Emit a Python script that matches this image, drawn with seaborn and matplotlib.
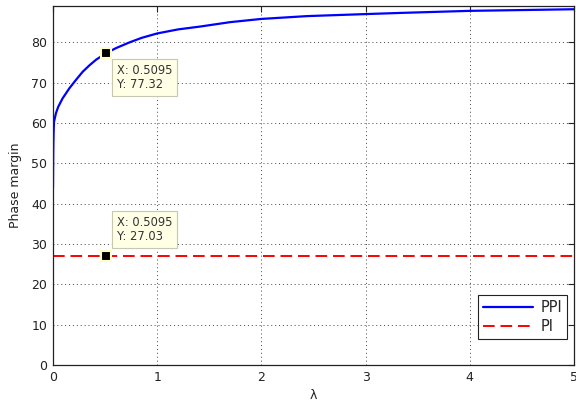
import matplotlib
matplotlib.use("Agg")
import matplotlib.pyplot as plt
import seaborn as sns
import pandas as pd

# data
ppi_x = [0.0, 0.001, 0.002, 0.004, 0.007, 0.01, 0.028, 0.05, 0.092, 0.157, 0.221, 0.285,
         0.35, 0.414, 0.5095, 0.608, 0.736, 0.85, 1.0, 1.2, 1.41, 1.7, 2.0, 2.44, 3.0,
         3.35, 4.0, 4.5, 5.0]
ppi_y = [44.0, 48.0, 52.0, 55.5, 58.5, 60.3, 62.4, 64.0, 66.1, 68.6, 70.7, 72.7,
         74.3, 75.7, 77.32, 78.6, 80.0, 81.1, 82.2, 83.2, 83.9, 85.0, 85.8, 86.5, 87.0,
         87.3, 87.8, 88.0, 88.2]
pi_x = [0.0, 5.0]
pi_y = [27.03, 27.03]
tip_x = [0.5095, 0.5095]
tip_y = [77.32, 27.03]
x_ticks = [0, 1, 2, 3, 4, 5]
y_ticks = [0, 10, 20, 30, 40, 50, 60, 70, 80]

sns.set_theme(style="white")
plt.rcParams['font.family'] = ['DejaVu Sans']

df_ppi = pd.DataFrame({"x": ppi_x, "y": ppi_y})
df_pi = pd.DataFrame({"x": pi_x, "y": pi_y})

fig = plt.figure(figsize=(5.76, 4.01), dpi=100)
ax = fig.add_axes([0.092, 0.0898, 0.9045, 0.8952])

sns.lineplot(data=df_ppi, x="x", y="y", ax=ax, color="#0000FF", lw=1.6,
             label="PPI", sort=False, estimator=None)
sns.lineplot(data=df_pi, x="x", y="y", ax=ax, color="#FF0000", lw=1.4,
             label="PI", sort=False, estimator=None)
ax.lines[0].set_solid_joinstyle("round")
ax.lines[1].set_dashes([6, 3])

ax.set_xlim(0, 5)
ax.set_ylim(0, 89)
ax.set_xticks(x_ticks)
ax.set_yticks(y_ticks)
ax.set_xticklabels([str(t) for t in x_ticks])
ax.set_yticklabels([str(t) for t in y_ticks])
ax.tick_params(direction="in", length=4.5, width=0.8, top=True, right=True,
               labelsize=9, colors="#222222", pad=4)
ax.grid(True, linestyle=(0, (1, 3)), color="#444444", lw=0.7)
for s in ax.spines.values():
    s.set_color("#222222")
    s.set_linewidth(0.9)

ax.set_xlabel("λ", fontsize=9, labelpad=4, color="#222222")
ax.set_ylabel("Phase margin", fontsize=9, labelpad=7, color="#222222")

# data tips
for i, (tx, ty) in enumerate(zip(tip_x, tip_y)):
    ax.plot([tx], [ty], marker="s", markersize=7.5, markerfacecolor="black",
            markeredgecolor="#FFFFC8", markeredgewidth=1.5, zorder=6, ls="none")
    label = f"X: {tx:.4f}\nY: {ty:.2f}"
    if i == 0:
        off, va = (11, -11), "top"
    else:
        off, va = (11, 13), "bottom"
    ax.annotate(label, xy=(tx, ty), xytext=off, textcoords="offset pixels",
                ha="left", va=va, fontsize=8.3, color="#333333", zorder=7,
                linespacing=1.1,
                bbox=dict(boxstyle="square,pad=0.42", fc="#FFFFE6", ec="#C8C8B0", lw=0.8))

leg = ax.legend(loc="lower right", fontsize=10.5, frameon=True, fancybox=False,
                framealpha=1, edgecolor="#222222", handlelength=3.4,
                handletextpad=0.5, borderpad=0.35, labelspacing=0.25,
                borderaxespad=0.0, bbox_to_anchor=(0.9866, 0.0724))
leg.get_frame().set_linewidth(0.8)

fig.savefig("out.png", dpi=100, facecolor="white")
